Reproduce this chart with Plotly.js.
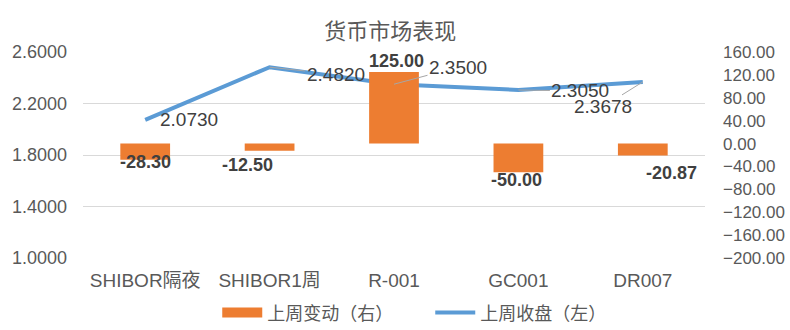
<!DOCTYPE html>
<html><head><meta charset="utf-8">
<script src="https://cdn.plot.ly/plotly-3.0.1.min.js"></script>
<style>html,body{margin:0;padding:0;background:#fff}#c{width:790px;height:330px}</style>
</head><body><div id="c"></div>
<script>
const categories = ['SHIBOR隔夜','SHIBOR1周','R-001','GC001','DR007'];
const weeklyChange = [-28.30, -12.50, 125.00, -50.00, -20.87];
const weeklyClose = [2.0730, 2.4820, 2.3500, 2.3050, 2.3678];
const changeLabels = ['-28.30','-12.50','125.00','-50.00','-20.87'];
const closeLabels = ['2.0730','2.4820','2.3500','2.3050','2.3678'];
const seriesNames = ['上周变动（右）','上周收盘（左）'];

const FONT = 'Liberation Sans, Arial, Noto Sans CJK SC, sans-serif';
const CJK = 'Noto Sans CJK SC, Liberation Sans, sans-serif';
const GRAY = '#595959';
const ORANGE = '#ED7D31', BLUE = '#5B9BD5';

// label offsets in px [dx, dy, leaderLine]
const barOff = [[0,2],[-22,14],[2,-11],[-2,8],[29,17]];
const lineOff = [[44,0,false],[66,7,true],[64,-17,true],[62,1,true],[-40,25,true]];

const annotations = [];
categories.forEach((c,i)=>{
  annotations.push({x:c, y:weeklyChange[i], xref:'x', yref:'y2', text:'<b>'+changeLabels[i]+'</b>',
    showarrow:true, arrowcolor:'rgba(0,0,0,0)', ax:barOff[i][0], ay:barOff[i][1],
    font:{family:FONT,size:18,color:'#404040'}});
  annotations.push({x:c, y:weeklyClose[i], xref:'x', yref:'y', text:closeLabels[i],
    showarrow:true, arrowhead:0, arrowwidth:1, arrowcolor:lineOff[i][2]?'#A6A6A6':'rgba(0,0,0,0)',
    standoff:0, ax:lineOff[i][0], ay:lineOff[i][1],
    font:{family:FONT,size:19,color:'#404040'}});
});

const data = [
  {type:'bar', x:categories, y:weeklyChange, yaxis:'y2', name:seriesNames[0],
   marker:{color:ORANGE}, width:0.4, showlegend:false},
  {type:'scatter', mode:'lines', x:[null], y:[null], yaxis:'y2', name:seriesNames[0],
   line:{color:ORANGE, width:10}, hoverinfo:'skip'},
  {type:'scatter', mode:'lines', x:categories, y:weeklyClose, yaxis:'y', name:seriesNames[1],
   line:{color:BLUE, width:4}}
];

const layout = {
  width:790, height:330,
  margin:{l:83, r:85, t:52, b:72},
  paper_bgcolor:'#fff', plot_bgcolor:'#fff',
  font:{family:FONT, color:GRAY, size:15},
  title:{text:'货币市场表现', x:0.494, xanchor:'center', yref:'container', y:0.906, yanchor:'middle',
         font:{family:CJK, size:22, color:GRAY}},
  xaxis:{type:'category', showgrid:false, showline:false, zeroline:false, ticks:'',
         ticklabelstandoff:9, tickfont:{size:19, color:GRAY}},
  yaxis:{range:[1.0,2.6], dtick:0.4, tick0:1.0, tickformat:'.4f', showgrid:true,
         gridcolor:'#D9D9D9', gridwidth:1, zeroline:false, showline:false, ticks:'',
         ticklabelstandoff:15, tickfont:{size:18, color:GRAY}},
  yaxis2:{overlaying:'y', side:'right', range:[-200,160], dtick:40, tick0:-200,
          tickformat:'.2f', showgrid:false, zeroline:false, showline:false, ticks:'',
          ticklabelstandoff:17, tickfont:{size:17, color:GRAY}},
  showlegend:true,
  legend:{orientation:'h', xref:'container', yref:'container', x:0.275, xanchor:'left',
          y:0.052, yanchor:'middle', font:{size:18, color:GRAY, family:CJK},
          entrywidth:158, entrywidthmode:'pixels', traceorder:'normal', itemwidth:40},
  annotations:annotations
};
Plotly.newPlot('c', data, layout, {displayModeBar:false, staticPlot:true});
</script></body></html>
